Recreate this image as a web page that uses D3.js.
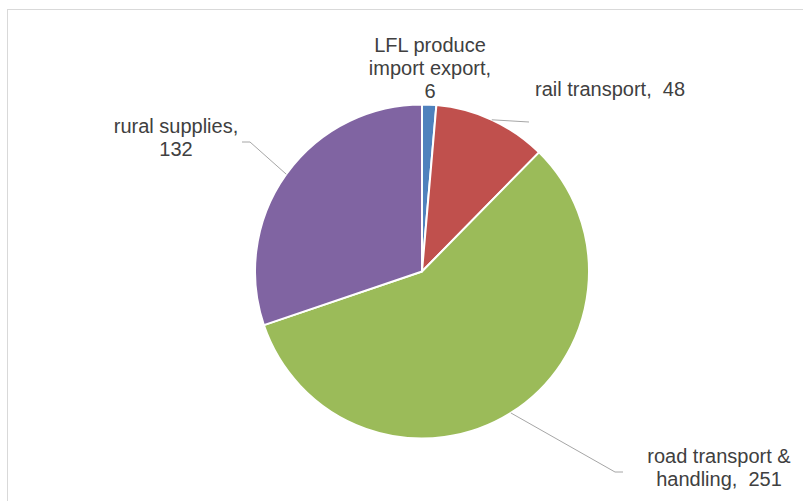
<!DOCTYPE html>
<html>
<head>
<meta charset="utf-8">
<script src="https://cdn.jsdelivr.net/npm/d3@7"></script>
<style>
  body { margin: 0; background: #fff; }
  text { font-family: "Liberation Sans", Arial, sans-serif; }
</style>
</head>
<body>
<div id="chart"></div>
<script>
// data
const categories = ["LFL produce import export", "rail transport", "road transport & handling", "rural supplies"];
const values = [6, 48, 251, 132];
const colors = ["#4F81BD", "#C0504D", "#9BBB59", "#8064A2"];

// label text lines (as shown in the chart)
const labelLines = [
  ["LFL produce", "import export,", "6"],
  ["rail transport,  48"],
  ["road transport &", "handling,  251"],
  ["rural supplies,", "132"]
];

const width = 803, height = 501;
const cx = 422, cy = 271.5, radius = 167;

// label anchor (x, first baseline), alignment, and leader line end
const labelLayout = [
  { x: 430, y: 52, anchor: "middle", lead: null },
  { x: 535, y: 96, anchor: "start", lead: [[529, 122]] },
  { x: 719, y: 463, anchor: "middle", lead: [[615, 472], [623, 472]] },
  { x: 176, y: 133, anchor: "middle", lead: [[250, 142], [242, 142]] }
];
const lineHeight = 23;

const svg = d3.select("#chart")
  .append("svg")
    .attr("width", width)
    .attr("height", height);

// chart area border
svg.append("rect")
  .attr("x", 7.5)
  .attr("y", 9.5)
  .attr("width", width + 20)
  .attr("height", height + 20)
  .attr("fill", "none")
  .attr("stroke", "#D9D9D9")
  .attr("stroke-width", 1);

const pie = d3.pie().sort(null).value(d => d);
const arcs = pie(values);

const arc = d3.arc().innerRadius(0).outerRadius(radius);

const g = svg.append("g")
  .attr("transform", "translate(" + cx + "," + cy + ")");

g.selectAll("path.slice")
  .data(arcs)
  .enter()
  .append("path")
    .attr("class", "slice")
    .attr("d", arc)
    .attr("fill", (d, i) => colors[i])
    .attr("stroke", "#fff")
    .attr("stroke-width", 2)
    .attr("stroke-linejoin", "round");

// leader lines
arcs.forEach(function(d, i) {
  const lay = labelLayout[i];
  if (!lay.lead) return;
  const mid = (d.startAngle + d.endAngle) / 2;
  const start = [cx + radius * Math.sin(mid), cy - radius * Math.cos(mid)];
  const pts = [start].concat(lay.lead);
  svg.append("path")
    .attr("d", d3.line()(pts))
    .attr("fill", "none")
    .attr("stroke", "#A6A6A6")
    .attr("stroke-width", 1);
});

// labels
labelLines.forEach(function(lines, i) {
  const lay = labelLayout[i];
  const t = svg.append("text")
    .attr("text-anchor", lay.anchor)
    .attr("font-size", 20)
    .attr("fill", "#404040")
    .style("white-space", "pre");
  lines.forEach(function(s, j) {
    t.append("tspan")
      .attr("x", lay.x)
      .attr("y", lay.y + j * lineHeight)
      .text(s);
  });
});
</script>
</body>
</html>
